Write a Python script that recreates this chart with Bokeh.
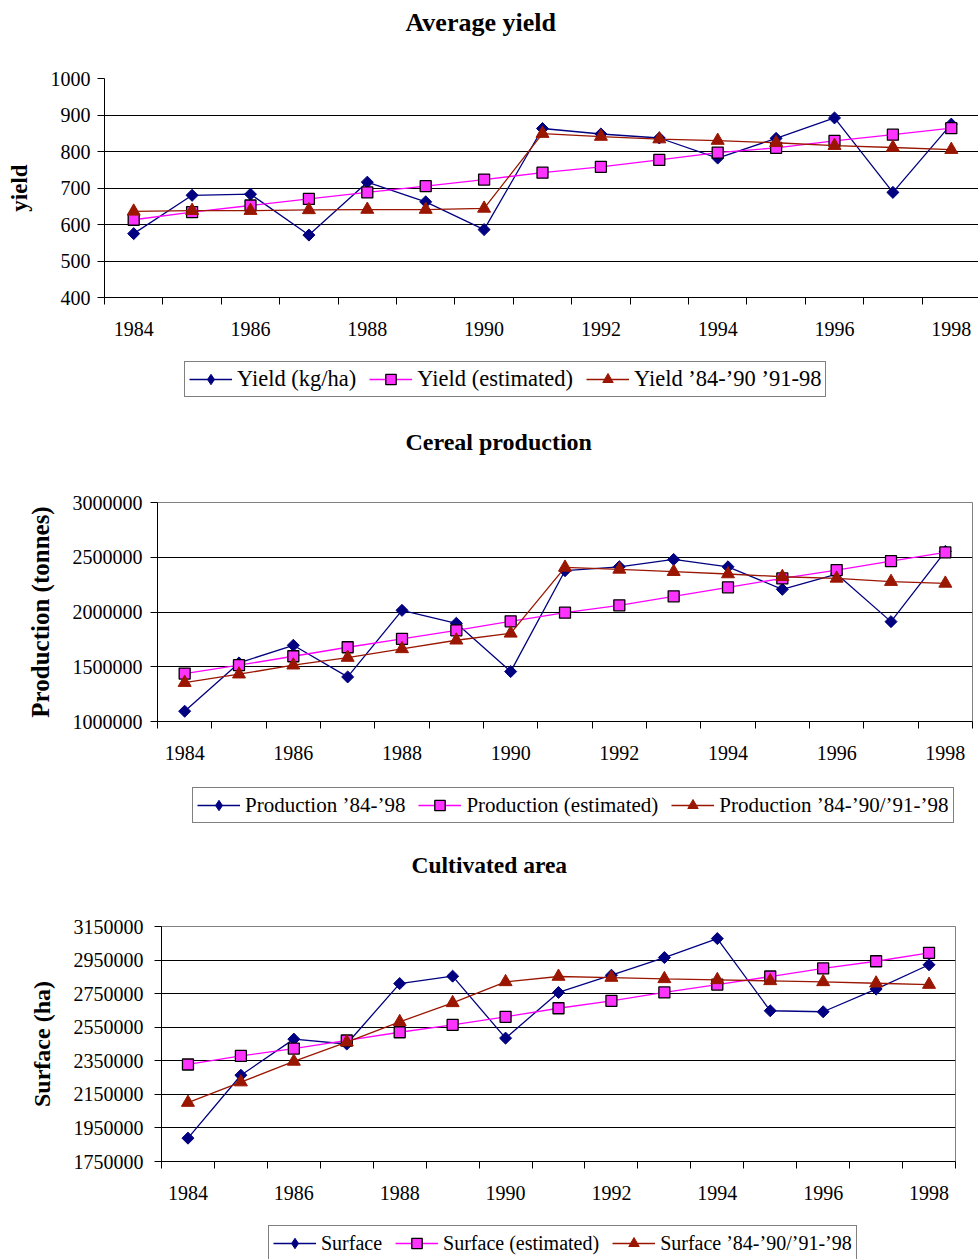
import math
from bokeh.plotting import figure
from bokeh.models import FixedTicker, Legend, LegendItem, Range1d, BasicTickFormatter
from bokeh.embed import file_html
from bokeh.resources import INLINE

years = list(range(1984, 1999))
label_years = [1984, 1986, 1988, 1990, 1992, 1994, 1996, 1998]

yield_actual = [575, 680, 683, 571, 716, 662, 586, 863, 848, 837, 782, 836, 892, 688, 875]
yield_estimated = [613, 634, 652, 670, 688, 705, 723, 742, 758, 777, 797, 810, 829, 846, 864]
yield_split = [636, 638, 638, 640, 641, 641, 644, 849, 841, 834, 830, 824, 816, 811, 805]
yield_ticks = [400, 500, 600, 700, 800, 900, 1000]
yield_names = ["Yield (kg/ha)", "Yield (estimated)", "Yield \u201984-\u201990 \u201991-98"]

production_actual = [1094000, 1535000, 1696000, 1407000, 2015000, 1897000, 1456000, 2377000,
                     2413000, 2480000, 2413000, 2207000, 2347000, 1912000, 2553000]
production_estimated = [1438000, 1514000, 1596000, 1678000, 1754000, 1833000, 1915000, 1994000,
                        2061000, 2143000, 2225000, 2307000, 2383000, 2465000, 2544000]
production_split = [1355000, 1432000, 1514000, 1584000, 1663000, 1742000, 1805000, 2407000,
                    2389000, 2368000, 2347000, 2322000, 2307000, 2277000, 2261000]
production_ticks = [1000000, 1500000, 2000000, 2500000, 3000000]
production_names = ["Production \u201984-\u201998", "Production (estimated)",
                    "Production \u201984-\u201990/\u201991-\u201998"]

surface_actual = [1889000, 2264000, 2479000, 2450000, 2810000, 2854000, 2485000, 2757000,
                  2860000, 2965000, 3078000, 2648000, 2642000, 2777000, 2922000]
surface_estimated = [2328000, 2379000, 2423000, 2471000, 2520000, 2564000, 2612000, 2663000,
                     2707000, 2757000, 2804000, 2852000, 2900000, 2943000, 2993000]
surface_split = [2101000, 2223000, 2346000, 2461000, 2582000, 2695000, 2820000, 2852000,
                 2846000, 2838000, 2832000, 2826000, 2820000, 2812000, 2804000]
surface_ticks = [1750000, 1950000, 2150000, 2350000, 2550000, 2750000, 2950000, 3150000]
surface_names = ["Surface", "Surface (estimated)", "Surface \u201984-\u201990/\u201991-\u201998"]

FONT = "Liberation Serif"
BLUE = "#000080"
PINK = "#FF00FF"
PINK_FILL = "#FF33FF"
RED = "#9A1600"
W = 978


def add_series(p, actual, estimated, split, visible=True):
    l1 = p.line(years, actual, line_color=BLUE, line_width=1.3, visible=visible)
    if visible:
        s1 = p.scatter(years, actual, marker="square", size=8.5, angle=math.pi / 4,
                       fill_color=BLUE, line_color=BLUE)
    else:
        s1 = p.scatter(years, actual, marker="diamond", size=14, fill_color=BLUE,
                       line_color=BLUE, visible=False)
    l2 = p.line(years, estimated, line_color=PINK, line_width=1.3, visible=visible)
    s2 = p.scatter(years, estimated, marker="square", size=11, fill_color=PINK_FILL,
                   line_color="black", line_width=1.3, visible=visible)
    l3 = p.line(years, split, line_color=RED, line_width=1.3, visible=visible)
    s3 = p.scatter(years, split, marker="triangle", size=13, fill_color=RED, line_color=RED,
                   visible=visible)
    return [(l1, s1), (l2, s2), (l3, s3)]


def build_title(text, size, offset, height, b_left):
    t = figure(width=W, height=height, output_backend="svg", toolbar_location=None,
               x_axis_type=None, y_axis_type=None,
               min_border_left=b_left, min_border_right=0, min_border_top=0,
               min_border_bottom=0, background_fill_color="white",
               border_fill_color="white")
    t.outline_line_color = None
    t.grid.visible = False
    t.title.text = text
    t.title.align = "left"
    t.title.offset = offset
    t.title.standoff = 10
    t.title.text_font = FONT
    t.title.text_font_size = size
    t.title.text_font_style = "bold"
    t.title.text_color = "black"
    return t


def build_chart(ylabel, ylabel_size, yticks, tick_standoff, actual, estimated, split,
                height, b_left, b_right, b_top, b_bottom, x_end, outline):
    p = figure(width=W, height=height, output_backend="svg", toolbar_location=None,
               x_range=Range1d(1983.5, x_end), y_range=Range1d(yticks[0], yticks[-1]),
               min_border_left=b_left, min_border_right=b_right,
               min_border_top=b_top, min_border_bottom=b_bottom,
               background_fill_color="white", border_fill_color="white")
    p.outline_line_color = outline

    xa = p.below[0]
    ya = p.left[0]

    xa.ticker = FixedTicker(ticks=label_years, minor_ticks=[y - 0.5 for y in years] + [1998.5])
    xa.major_tick_line_color = None
    xa.major_tick_out = 7
    xa.major_tick_in = 0
    xa.minor_tick_out = 7
    xa.minor_tick_in = 0
    xa.minor_tick_line_color = "black"
    xa.axis_line_color = "black"
    xa.major_label_text_font = FONT
    xa.major_label_text_font_size = "20px"
    xa.major_label_text_color = "black"
    xa.major_label_standoff = 17

    ya.ticker = FixedTicker(ticks=yticks)
    ya.formatter = BasicTickFormatter(use_scientific=False)
    ya.major_tick_out = 7
    ya.major_tick_in = 0
    ya.minor_tick_out = 0
    ya.minor_tick_line_color = None
    ya.axis_line_color = "black"
    ya.major_tick_line_color = "black"
    ya.major_label_text_font = FONT
    ya.major_label_text_font_size = "20px"
    ya.major_label_text_color = "black"
    ya.major_label_standoff = tick_standoff
    ya.axis_label = ylabel
    ya.axis_label_text_font = FONT
    ya.axis_label_text_font_size = ylabel_size
    ya.axis_label_text_font_style = "bold"
    ya.axis_label_text_color = "black"
    ya.axis_label_standoff = 16

    p.xgrid.visible = False
    p.ygrid.ticker = FixedTicker(ticks=yticks)
    p.ygrid.grid_line_color = "black"
    p.ygrid.grid_line_width = 1

    add_series(p, actual, estimated, split)
    return p


def build_legend(names, actual, estimated, split, height, left, top, font_size):
    q = figure(width=W, height=height, output_backend="svg", toolbar_location=None,
               x_axis_type=None, y_axis_type=None,
               min_border_left=left, min_border_top=top, min_border_right=0,
               min_border_bottom=0, background_fill_color="white",
               border_fill_color="white")
    q.outline_line_color = None
    q.grid.visible = False
    pairs = add_series(q, actual, estimated, split, visible=False)
    legend = Legend(items=[LegendItem(label=n, renderers=list(pr)) for n, pr in zip(names, pairs)],
                    orientation="horizontal", location="top_left", margin=0,
                    padding=4, spacing=13, glyph_width=43, glyph_height=26, label_standoff=5,
                    label_height=20,
                    label_text_font=FONT, label_text_font_size=font_size,
                    label_text_color="black",
                    border_line_color="black", border_line_width=1,
                    background_fill_color="white", background_fill_alpha=1.0)
    q.add_layout(legend)
    return q


t1 = build_title("Average yield", "26px", 301, 50, 104)
c1 = build_chart("yield", "23px", yield_ticks, 7, yield_actual, yield_estimated, yield_split,
                 295, 104, 0, 28, 48, 1983.5 + 874 / 58.4, None)
g1 = build_legend(yield_names, yield_actual, yield_estimated, yield_split, 76, 184, 16, "22.5px")

t2 = build_title("Cereal production", "24px", 248, 44, 157)
c2 = build_chart("Production (tonnes)", "25px", production_ticks, 8, production_actual,
                 production_estimated, production_split,
                 300, 157, 6, 37, 44, 1998.5, "#808080")
g2 = build_legend(production_names, production_actual, production_estimated, production_split,
                  79, 192, 22, "21px")

t3 = build_title("Cultivated area", "23.5px", 250, 40, 161)
c3 = build_chart("Surface (ha)", "24px", surface_ticks, 11, surface_actual, surface_estimated,
                 surface_split, 321, 161, 23, 42, 44, 1998.5, "#808080")
g3 = build_legend(surface_names, surface_actual, surface_estimated, surface_split, 54, 268, 20,
                  "20px")

open("out.html", "w").write(file_html([t1, c1, g1, t2, c2, g2, t3, c3, g3], INLINE))
